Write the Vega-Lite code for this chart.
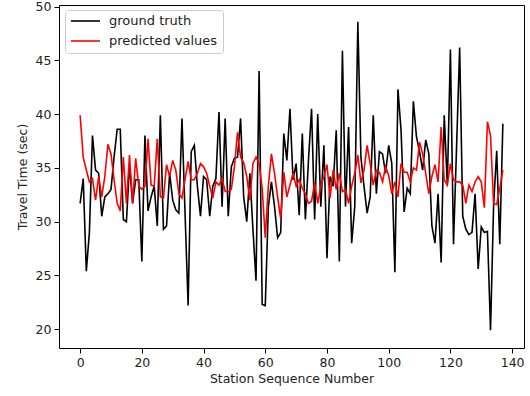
{
  "$schema": "https://vega.github.io/schema/vega-lite/v6.json",
  "width": 465,
  "height": 343,
  "autosize": {"type": "none"},
  "padding": {"left": 59, "top": 5, "right": 6, "bottom": 48},
  "background": "white",
  "config": {
    "font": "DejaVu Sans",
    "view": {"stroke": "#000", "strokeWidth": 1},
    "axis": {
      "domain": false,
      "grid": false,
      "ticks": true,
      "tickColor": "#000",
      "tickSize": 5,
      "labelFont": "DejaVu Sans",
      "labelFontSize": 12.5,
      "labelColor": "#222",
      "labelPadding": 3,
      "titleFont": "DejaVu Sans",
      "titleFontSize": 12.5,
      "titleFontWeight": "normal",
      "titleColor": "#222"
    },
    "legend": {
      "fillColor": "white",
      "strokeColor": "#cccccc",
      "cornerRadius": 3,
      "padding": 5,
      "labelFont": "DejaVu Sans",
      "labelFontSize": 13,
      "labelColor": "#222",
      "symbolType": "stroke",
      "symbolSize": 841,
      "symbolStrokeWidth": 1.6,
      "clipHeight": 12,
      "rowPadding": 7,
      "labelOffset": 8
    }
  },
  "data": {
    "values": [
      {"n": 0, "truth": 31.7, "pred": 39.9},
      {"n": 1, "truth": 34.0, "pred": 36.0},
      {"n": 2, "truth": 25.4, "pred": 34.8},
      {"n": 3, "truth": 29.0, "pred": 33.7},
      {"n": 4, "truth": 38.0, "pred": 34.0},
      {"n": 5, "truth": 34.8, "pred": 32.0},
      {"n": 6, "truth": 34.5, "pred": 34.2},
      {"n": 7, "truth": 30.5, "pred": 32.3},
      {"n": 8, "truth": 32.3, "pred": 34.2},
      {"n": 9, "truth": 32.6, "pred": 37.2},
      {"n": 10, "truth": 33.0, "pred": 36.3},
      {"n": 11, "truth": 36.0, "pred": 33.9},
      {"n": 12, "truth": 38.6, "pred": 31.7},
      {"n": 13, "truth": 38.6, "pred": 31.0},
      {"n": 14, "truth": 30.2, "pred": 36.0},
      {"n": 15, "truth": 30.0, "pred": 31.7},
      {"n": 16, "truth": 35.3, "pred": 36.2},
      {"n": 17, "truth": 31.7, "pred": 31.7},
      {"n": 18, "truth": 33.9, "pred": 35.9},
      {"n": 19, "truth": 33.9, "pred": 33.3},
      {"n": 20, "truth": 26.3, "pred": 33.0},
      {"n": 21, "truth": 38.0, "pred": 33.3},
      {"n": 22, "truth": 31.0, "pred": 37.7},
      {"n": 23, "truth": 32.3, "pred": 33.4},
      {"n": 24, "truth": 33.3, "pred": 33.3},
      {"n": 25, "truth": 29.6, "pred": 37.7},
      {"n": 26, "truth": 39.9, "pred": 32.3},
      {"n": 27, "truth": 29.3, "pred": 32.2},
      {"n": 28, "truth": 29.6, "pred": 35.3},
      {"n": 29, "truth": 34.5, "pred": 34.2},
      {"n": 30, "truth": 32.0, "pred": 35.7},
      {"n": 31, "truth": 31.1, "pred": 34.8},
      {"n": 32, "truth": 30.8, "pred": 32.6},
      {"n": 33, "truth": 39.6, "pred": 32.2},
      {"n": 34, "truth": 30.8, "pred": 33.9},
      {"n": 35, "truth": 22.2, "pred": 35.6},
      {"n": 36, "truth": 36.5, "pred": 33.9},
      {"n": 37, "truth": 37.1, "pred": 33.9},
      {"n": 38, "truth": 33.3, "pred": 34.5},
      {"n": 39, "truth": 30.5, "pred": 35.4},
      {"n": 40, "truth": 34.2, "pred": 35.1},
      {"n": 41, "truth": 33.9, "pred": 34.5},
      {"n": 42, "truth": 30.5, "pred": 33.3},
      {"n": 43, "truth": 33.3, "pred": 32.2},
      {"n": 44, "truth": 34.0, "pred": 33.7},
      {"n": 45, "truth": 40.2, "pred": 33.4},
      {"n": 46, "truth": 31.4, "pred": 34.0},
      {"n": 47, "truth": 39.6, "pred": 32.8},
      {"n": 48, "truth": 30.5, "pred": 32.8},
      {"n": 49, "truth": 35.1, "pred": 33.0},
      {"n": 50, "truth": 35.9, "pred": 35.1},
      {"n": 51, "truth": 36.0, "pred": 38.3},
      {"n": 52, "truth": 39.6, "pred": 36.0},
      {"n": 53, "truth": 32.3, "pred": 35.5},
      {"n": 54, "truth": 30.0, "pred": 34.2},
      {"n": 55, "truth": 34.5, "pred": 32.0},
      {"n": 56, "truth": 29.3, "pred": 35.4},
      {"n": 57, "truth": 24.5, "pred": 36.0},
      {"n": 58, "truth": 44.0, "pred": 35.4},
      {"n": 59, "truth": 22.3, "pred": 33.1},
      {"n": 60, "truth": 22.2, "pred": 28.5},
      {"n": 61, "truth": 31.4, "pred": 33.3},
      {"n": 62, "truth": 33.7, "pred": 36.3},
      {"n": 63, "truth": 31.4, "pred": 34.5},
      {"n": 64, "truth": 28.5, "pred": 32.3},
      {"n": 65, "truth": 29.0, "pred": 30.3},
      {"n": 66, "truth": 38.2, "pred": 34.6},
      {"n": 67, "truth": 35.7, "pred": 32.3},
      {"n": 68, "truth": 40.5, "pred": 33.4},
      {"n": 69, "truth": 33.9, "pred": 34.5},
      {"n": 70, "truth": 35.4, "pred": 33.3},
      {"n": 71, "truth": 30.6, "pred": 33.9},
      {"n": 72, "truth": 38.2, "pred": 33.1},
      {"n": 73, "truth": 30.2, "pred": 32.6},
      {"n": 74, "truth": 35.7, "pred": 31.7},
      {"n": 75, "truth": 40.5, "pred": 31.9},
      {"n": 76, "truth": 30.2, "pred": 33.6},
      {"n": 77, "truth": 40.0, "pred": 31.7},
      {"n": 78, "truth": 31.4, "pred": 33.3},
      {"n": 79, "truth": 37.1, "pred": 34.2},
      {"n": 80, "truth": 26.6, "pred": 35.3},
      {"n": 81, "truth": 34.2, "pred": 32.2},
      {"n": 82, "truth": 33.3, "pred": 34.8},
      {"n": 83, "truth": 38.5, "pred": 33.0},
      {"n": 84, "truth": 26.3, "pred": 34.5},
      {"n": 85, "truth": 45.9, "pred": 32.8},
      {"n": 86, "truth": 31.4, "pred": 33.0},
      {"n": 87, "truth": 38.8, "pred": 31.7},
      {"n": 88, "truth": 28.0, "pred": 33.3},
      {"n": 89, "truth": 31.4, "pred": 34.5},
      {"n": 90, "truth": 48.6, "pred": 36.2},
      {"n": 91, "truth": 36.0, "pred": 33.6},
      {"n": 92, "truth": 33.3, "pred": 34.8},
      {"n": 93, "truth": 30.8, "pred": 37.1},
      {"n": 94, "truth": 32.3, "pred": 35.4},
      {"n": 95, "truth": 39.9, "pred": 33.4},
      {"n": 96, "truth": 32.6, "pred": 34.8},
      {"n": 97, "truth": 36.5, "pred": 34.6},
      {"n": 98, "truth": 36.3, "pred": 33.7},
      {"n": 99, "truth": 34.5, "pred": 35.1},
      {"n": 100, "truth": 37.1, "pred": 34.3},
      {"n": 101, "truth": 35.4, "pred": 32.6},
      {"n": 102, "truth": 25.3, "pred": 33.7},
      {"n": 103, "truth": 42.3, "pred": 32.3},
      {"n": 104, "truth": 38.5, "pred": 35.4},
      {"n": 105, "truth": 30.9, "pred": 34.6},
      {"n": 106, "truth": 33.1, "pred": 34.6},
      {"n": 107, "truth": 32.6, "pred": 33.7},
      {"n": 108, "truth": 41.2, "pred": 35.0},
      {"n": 109, "truth": 37.9, "pred": 34.8},
      {"n": 110, "truth": 36.5, "pred": 37.4},
      {"n": 111, "truth": 34.8, "pred": 36.3},
      {"n": 112, "truth": 37.6, "pred": 34.5},
      {"n": 113, "truth": 36.3, "pred": 32.6},
      {"n": 114, "truth": 29.6, "pred": 34.2},
      {"n": 115, "truth": 28.0, "pred": 35.3},
      {"n": 116, "truth": 32.6, "pred": 33.7},
      {"n": 117, "truth": 26.2, "pred": 38.8},
      {"n": 118, "truth": 39.9, "pred": 33.9},
      {"n": 119, "truth": 33.4, "pred": 33.4},
      {"n": 120, "truth": 46.0, "pred": 35.4},
      {"n": 121, "truth": 27.9, "pred": 33.9},
      {"n": 122, "truth": 37.0, "pred": 33.7},
      {"n": 123, "truth": 46.2, "pred": 33.7},
      {"n": 124, "truth": 30.5, "pred": 33.4},
      {"n": 125, "truth": 29.3, "pred": 31.7},
      {"n": 126, "truth": 28.8, "pred": 33.4},
      {"n": 127, "truth": 29.0, "pred": 32.8},
      {"n": 128, "truth": 32.6, "pred": 33.7},
      {"n": 129, "truth": 25.6, "pred": 34.2},
      {"n": 130, "truth": 29.5, "pred": 33.7},
      {"n": 131, "truth": 29.0, "pred": 31.3},
      {"n": 132, "truth": 29.1, "pred": 39.3},
      {"n": 133, "truth": 19.9, "pred": 38.0},
      {"n": 134, "truth": 31.5, "pred": 31.7},
      {"n": 135, "truth": 36.6, "pred": 31.6},
      {"n": 136, "truth": 27.9, "pred": 33.1},
      {"n": 137, "truth": 39.1, "pred": 34.8}
    ]
  },
  "transform": [
    {"fold": ["truth", "pred"], "as": ["key", "value"]},
    {"lookup": "key", "from": {"data": {"values": [
      {"key": "truth", "series": "ground truth"},
      {"key": "pred", "series": "predicted values"}
    ]}, "key": "key", "fields": ["series"]}}
  ],
  "mark": {"type": "line", "strokeWidth": 1.6, "clip": true},
  "encoding": {
    "x": {
      "field": "n",
      "type": "quantitative",
      "title": "Station Sequence Number",
      "scale": {"domain": [-6.85, 143.85], "nice": false, "zero": false},
      "axis": {"values": [0, 20, 40, 60, 80, 100, 120, 140], "format": "d", "titlePadding": 4}
    },
    "y": {
      "field": "value",
      "type": "quantitative",
      "title": "Travel Time (sec)",
      "scale": {"domain": [18.25, 50.15], "nice": false, "zero": false},
      "axis": {"values": [20, 25, 30, 35, 40, 45, 50], "format": "d", "titlePadding": 6}
    },
    "color": {
      "field": "series",
      "type": "nominal",
      "scale": {"domain": ["ground truth", "predicted values"], "range": ["#000000", "#ff0000"]},
      "legend": {"title": null, "orient": "none", "legendX": 6, "legendY": 5}
    },
    "order": {"field": "n", "type": "quantitative"}
  }
}
